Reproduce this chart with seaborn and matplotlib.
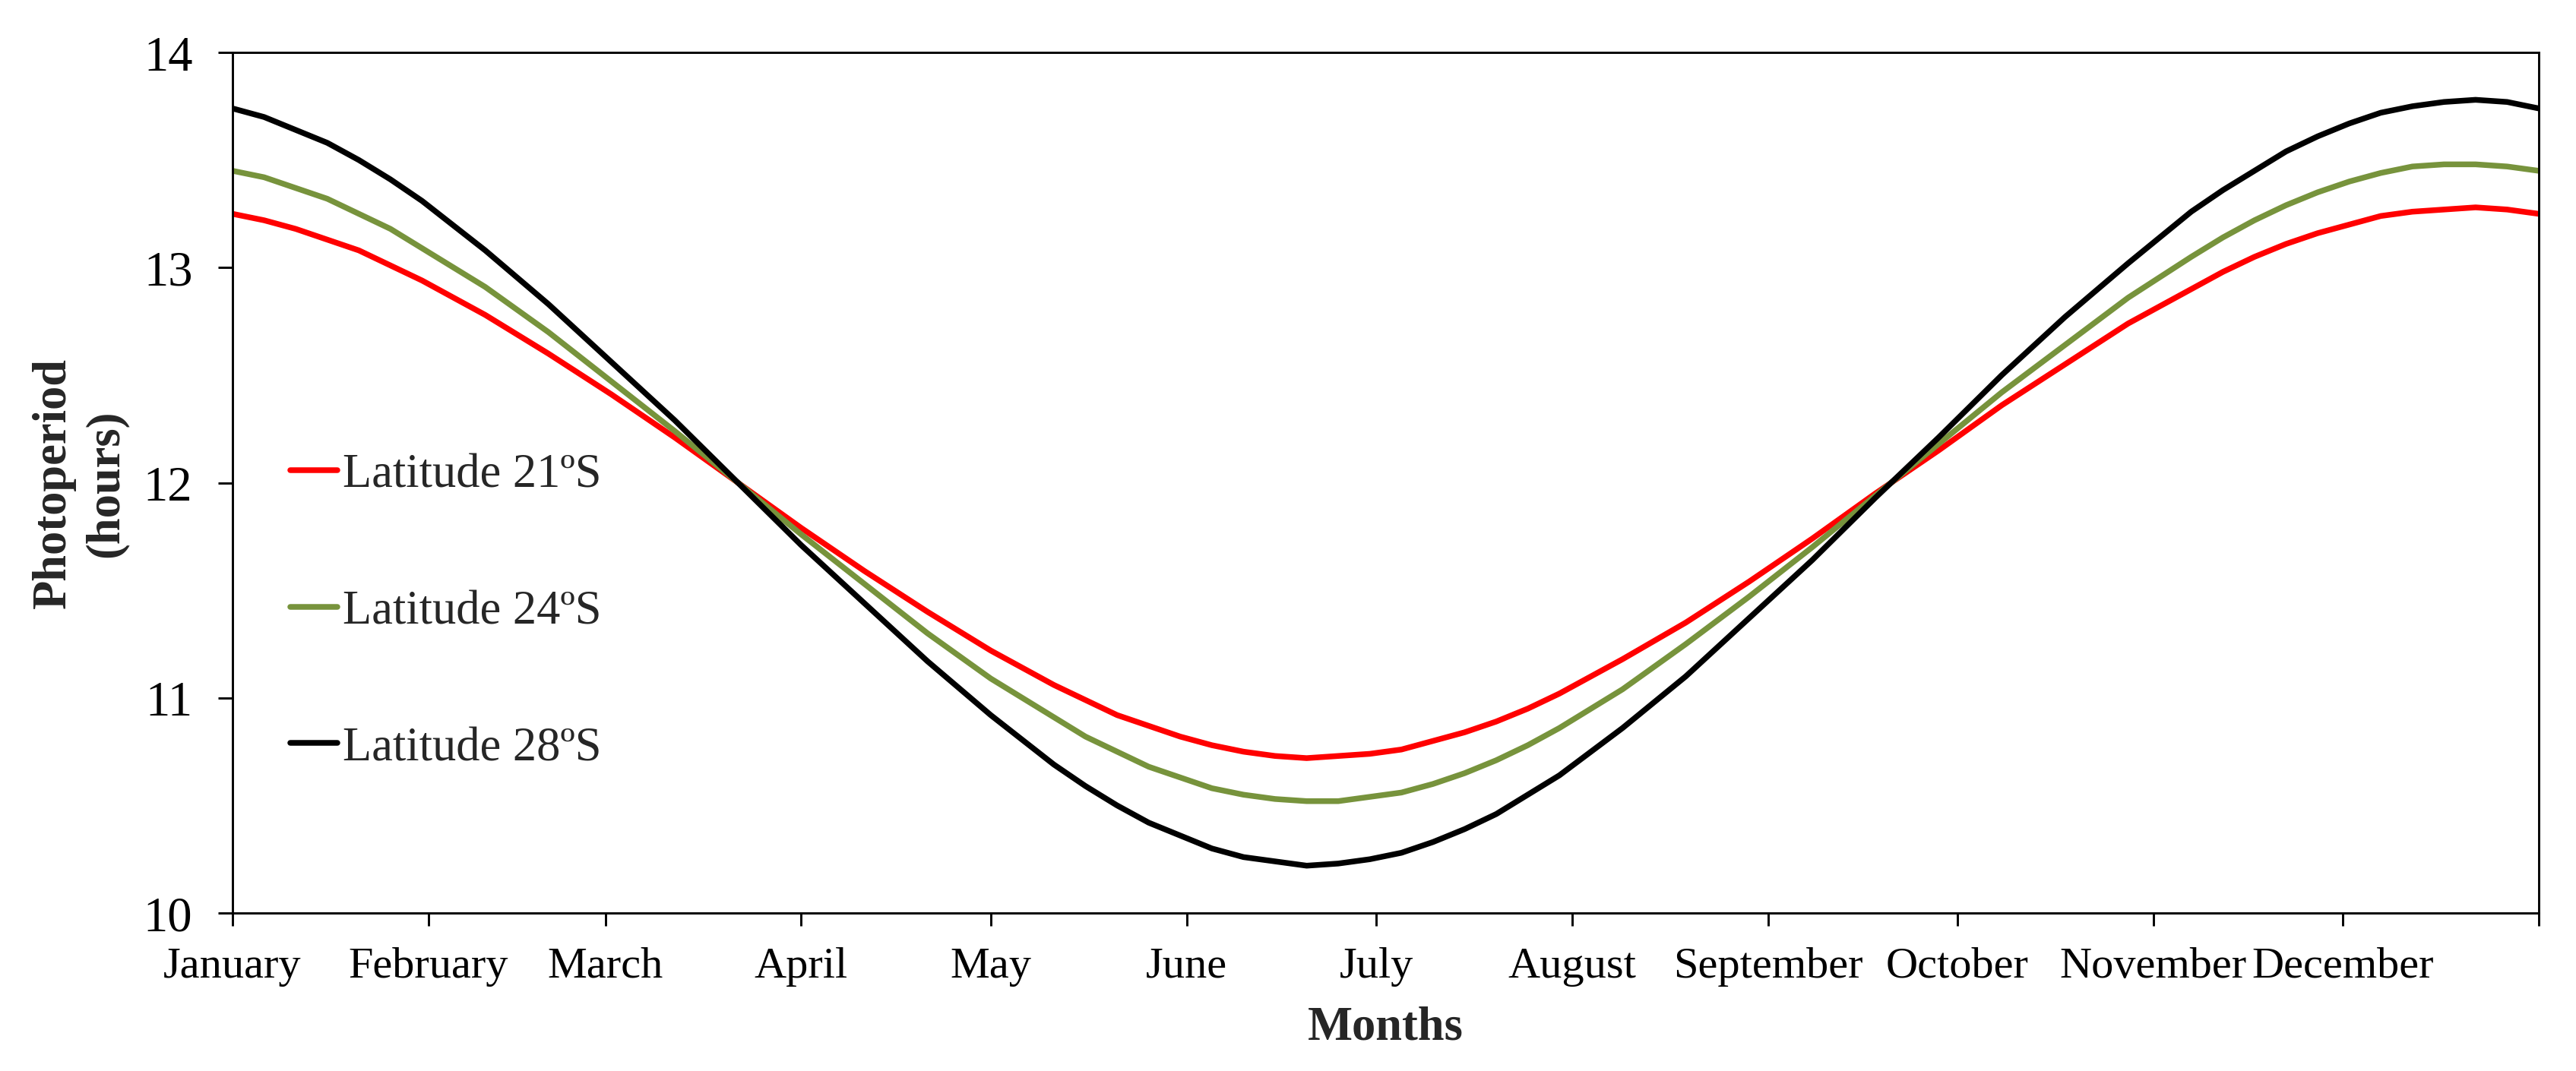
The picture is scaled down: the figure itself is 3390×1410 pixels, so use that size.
import numpy as np
import pandas as pd
import matplotlib
matplotlib.use("Agg")
import matplotlib.pyplot as plt
import seaborn as sns

# Data (day of year, photoperiod in hours)
days = [0, 5, 10, 15, 20, 25, 30,
        40, 50, 60, 70, 80, 90, 100, 110, 120, 130,
        135, 140, 145, 150, 155, 160, 165, 170, 175, 180, 185, 190, 195, 200, 205, 210, 215, 220,
        230, 240, 250, 260, 270, 280, 290, 300, 310,
        315, 320, 325, 330, 335, 340, 345, 350, 355, 360, 365]

lat21 = [13.25, 13.22, 13.18, 13.13, 13.08, 13.01, 12.94,
         12.78, 12.60, 12.41, 12.21, 12.00, 11.79, 11.59, 11.40, 11.22, 11.06,
         10.99, 10.92, 10.87, 10.82, 10.78, 10.75, 10.73, 10.72, 10.73, 10.74, 10.76, 10.80,
         10.84, 10.89, 10.95, 11.02, 11.10, 11.18,
         11.35, 11.54, 11.74, 11.95, 12.15, 12.36, 12.55, 12.74, 12.90,
         12.98, 13.05, 13.11, 13.16, 13.20, 13.24, 13.26, 13.27, 13.28, 13.27, 13.25]

lat24 = [13.45, 13.42, 13.37, 13.32, 13.25, 13.18, 13.09,
         12.91, 12.70, 12.47, 12.24, 12.00, 11.76, 11.53, 11.30, 11.09, 10.91,
         10.82, 10.75, 10.68, 10.63, 10.58, 10.55, 10.53, 10.52, 10.52, 10.54, 10.56, 10.60,
         10.65, 10.71, 10.78, 10.86, 10.95, 11.04,
         11.25, 11.47, 11.70, 11.94, 12.18, 12.42, 12.64, 12.86, 13.05,
         13.14, 13.22, 13.29, 13.35, 13.40, 13.44, 13.47, 13.48, 13.48, 13.47, 13.45]

lat28 = [13.74, 13.70, 13.64, 13.58, 13.50, 13.41, 13.31,
         13.08, 12.83, 12.56, 12.29, 12.00, 11.71, 11.44, 11.17, 10.92, 10.69,
         10.59, 10.50, 10.42, 10.36, 10.30, 10.26, 10.24, 10.22, 10.23, 10.25, 10.28, 10.33,
         10.39, 10.46, 10.55, 10.64, 10.75, 10.86,
         11.10, 11.37, 11.64, 11.93, 12.21, 12.50, 12.77, 13.02, 13.26,
         13.36, 13.45, 13.54, 13.61, 13.67, 13.72, 13.75, 13.77, 13.78, 13.77, 13.74]

series_names = ["Latitude 21ºS", "Latitude 24ºS", "Latitude 28ºS"]
series_colors = ["#FF0000", "#77933C", "#000000"]

months = ["January", "February", "March", "April", "May", "June", "July",
          "August", "September", "October", "November", "December"]
month_starts = [0, 31, 59, 90, 120, 151, 181, 212, 243, 273, 304, 334, 365]

df = pd.concat([
    pd.DataFrame({"day": days, "hours": vals, "lat": name})
    for vals, name in zip([lat21, lat24, lat28], series_names)
])

sns.set_style("ticks")
plt.rcParams["font.family"] = ["Liberation Serif", "DejaVu Serif"]

fig = plt.figure(figsize=(11.3, 4.703), dpi=300)
ax = fig.add_axes([306 / 3390, 1 - 1203 / 1411, (3341 - 306) / 3390, (1203 - 70) / 1411])

sns.lineplot(data=df, x="day", y="hours", hue="lat", palette=series_colors,
             linewidth=1.8, ax=ax, sort=False)

ax.set_xlim(0, 365)
ax.set_ylim(10, 14)
ax.set_yticks([10, 11, 12, 13, 14])
ax.set_xticks(month_starts)
ax.set_xticklabels(months + [""])

for s in ax.spines.values():
    s.set_visible(True)
    s.set_linewidth(0.7)
    s.set_color("black")

ax.tick_params(axis="x", direction="out", length=4, width=0.7, pad=6.5,
               labelsize=14, colors="black")
ax.tick_params(axis="y", direction="out", length=4.6, width=0.7, pad=8,
               labelsize=15.5, colors="black")

ax.set_xlabel("Months", fontsize=15, fontweight="bold")
ax.xaxis.set_label_coords(0.5, -0.1327)
ax.xaxis.label.set_va("center")
ax.set_ylabel("Photoperiod\n(hours)", fontsize=15, fontweight="bold", linespacing=1.25)
ax.yaxis.set_label_coords(-0.066, 0.5)
ax.yaxis.label.set_va("center")

leg = ax.legend(loc="center left", bbox_to_anchor=(0.025, 0.35), frameon=False,
                fontsize=15, handlelength=1.0, handletextpad=0.1,
                labelspacing=1.95, borderpad=0, borderaxespad=0)
for line in leg.get_lines():
    line.set_linewidth(1.8)

fig.savefig("out.png", dpi=300, facecolor="white")
